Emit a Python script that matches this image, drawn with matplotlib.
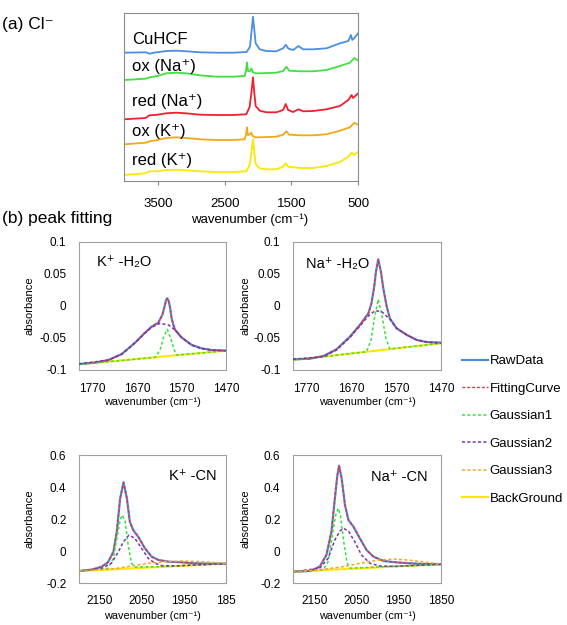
import matplotlib
matplotlib.use('Agg')
import matplotlib.pyplot as plt

plt.rcParams['font.family'] = ['Liberation Sans', 'DejaVu Sans']

# ---------------- (a) Cl- spectra (offset, arbitrary units) ----------------
cuhcf_wn = [4000, 3680, 3620, 3560, 3370, 3220, 3070, 2870, 2620, 2370, 2170, 2120, 2090, 2075,
            2060, 2035, 1975, 1875, 1725, 1625, 1585, 1545, 1475, 1395, 1325, 1175, 975, 775,
            650, 610, 590, 560, 500]
cuhcf = [128.3, 128.7, 127.3, 128.3, 130, 130.3, 129.7, 128.7, 128.3, 128.3, 129, 134.3, 154.3, 164.3,
         154.3, 137.7, 131.7, 130, 129.7, 132.7, 136.3, 132.3, 131, 135, 131.7, 131.7, 132.7, 137.7,
         140, 146, 141, 143, 148]

ox_na_wn = [4000, 3680, 3620, 3500, 3375, 3225, 3075, 2875, 2625, 2375, 2200, 2180, 2165, 2150,
            2125, 2100, 2080, 2040, 1975, 1725, 1625, 1575, 1535, 1375, 1175, 975, 775, 625, 560, 500]
ox_na = [101, 102.3, 103.7, 105, 107.7, 108.3, 107.7, 105.7, 104.3, 104.3, 105, 110, 118.7, 110,
         109.7, 112.5, 109, 107.7, 107.7, 108.3, 110, 114.3, 110.3, 109.7, 109.7, 111, 115, 118.3, 123, 120.3]

red_na_wn = [4000, 3680, 3625, 3500, 3375, 3225, 3075, 2875, 2625, 2375, 2175, 2125, 2100, 2075,
             2055, 2035, 1975, 1875, 1725, 1625, 1585, 1550, 1475, 1395, 1325, 1175, 975, 775,
             650, 600, 580, 500]
red_na = [61.7, 63, 65.7, 66.3, 67.7, 68.3, 67.7, 66.3, 66, 66, 66.7, 74.3, 87.7, 103.7,
          87.7, 75, 70.3, 68.7, 68.7, 71, 77, 71, 69, 71.7, 69.7, 70, 71.7, 75,
          81, 86, 83, 87.7]

ox_k_wn = [4000, 3680, 3620, 3500, 3375, 3225, 3075, 2875, 2625, 2375, 2200, 2180, 2165, 2150,
           2125, 2100, 2080, 2040, 1975, 1725, 1625, 1575, 1535, 1375, 1175, 975, 775, 625, 560, 500]
ox_k = [36.7, 38.3, 39.7, 41, 43, 43.7, 43, 41.7, 41, 41, 41.7, 46, 53.7, 46,
        46.5, 48.3, 45, 43.7, 43.7, 44.3, 46.3, 49.7, 46.3, 45.7, 45.7, 46.7, 50.3, 53.7, 58.3, 56]

red_k_wn = [4000, 3680, 3625, 3500, 3375, 3225, 3075, 2875, 2625, 2375, 2175, 2125, 2100, 2075,
            2055, 2035, 1975, 1875, 1725, 1625, 1585, 1550, 1375, 1175, 975, 775, 650, 600, 560, 500]
red_k = [6, 7.7, 9.7, 9.7, 11, 11.3, 10.7, 9.7, 9, 9, 9.7, 16, 27.7, 41.7,
         27.7, 17, 12.7, 11.7, 11.7, 14.3, 17.7, 14.3, 13, 13, 15, 19, 24.3, 28.3, 26, 29.3]

spec_names = ['CuHCF', 'ox (Na⁺)', 'red (Na⁺)', 'ox (K⁺)', 'red (K⁺)']
spec_colors = ['#4a8fe0', '#3fe03f', '#f0202e', '#f2a818', '#fbe800']
spec_label_y = [0.838, 0.679, 0.472, 0.297, 0.119]
a_ticks = [3500, 2500, 1500, 500]

# ---------------- (b) peak fitting ----------------
# K+ - H2O
kh2o_raw_wn = [1800, 1764, 1734, 1704, 1674, 1652, 1637, 1622, 1613, 1608, 1605, 1602, 1599, 1596,
               1592, 1588, 1584, 1570, 1547, 1525, 1502, 1470]
kh2o_raw = [-0.0906, -0.0885, -0.0844, -0.075, -0.0573, -0.0417, -0.0323, -0.026, -0.0141, -0.001,
            0.0083, 0.012, 0.0083, -0.001, -0.0193, -0.0297, -0.0375, -0.049, -0.0609, -0.0661, -0.0688, -0.0698]
kh2o_g1_wn = [1800, 1734, 1659, 1629, 1618, 1611, 1602, 1594, 1587, 1581, 1547, 1470]
kh2o_g1 = [-0.0911, -0.087, -0.0823, -0.0802, -0.0688, -0.0505, -0.0365, -0.0505, -0.0677, -0.0765, -0.0748, -0.0698]
kh2o_g2_wn = [1800, 1734, 1704, 1674, 1652, 1637, 1618, 1599, 1584, 1570, 1547, 1525, 1502, 1470]
kh2o_g2 = [-0.0906, -0.0844, -0.0755, -0.0573, -0.0427, -0.0333, -0.0271, -0.0297, -0.0375, -0.049,
           -0.0609, -0.0667, -0.069, -0.0698]
kh2o_bg_wn = [1800, 1470]
kh2o_bg = [-0.0911, -0.0698]

# Na+ - H2O
nah2o_raw_wn = [1800, 1762, 1732, 1703, 1673, 1651, 1632, 1625, 1619, 1615, 1610, 1604, 1598, 1591,
                1584, 1569, 1546, 1524, 1502, 1470]
nah2o_raw = [-0.0833, -0.0823, -0.0781, -0.0677, -0.0479, -0.0297, -0.0115, 0.0042, 0.030, 0.0536,
             0.073, 0.0536, 0.025, -0.001, -0.0193, -0.0349, -0.0453, -0.0531, -0.0563, -0.0573]
nah2o_g1_wn = [1800, 1717, 1636, 1626, 1618, 1610, 1601, 1593, 1584, 1524, 1470]
nah2o_g1 = [-0.0844, -0.0781, -0.0714, -0.0531, -0.0167, 0.0105, -0.0167, -0.0505, -0.0672, -0.0625, -0.0583]
nah2o_g2_wn = [1800, 1732, 1703, 1673, 1651, 1632, 1617, 1602, 1584, 1569, 1546, 1524, 1502, 1470]
nah2o_g2 = [-0.0833, -0.0792, -0.0688, -0.049, -0.0313, -0.0156, -0.0073, -0.0089, -0.0208, -0.0349,
            -0.0453, -0.0531, -0.0563, -0.0583]
nah2o_bg_wn = [1800, 1470]
nah2o_bg = [-0.0844, -0.0583]

# K+ - CN
kcn_raw_wn = [2200, 2170, 2146, 2131, 2118, 2110, 2102, 2094, 2086, 2079, 2071, 2059, 2043, 2027,
              2011, 1987, 1955, 1924, 1892, 1850]
kcn_raw = [-0.125, -0.1167, -0.098, -0.0708, -0.004, 0.121, 0.329, 0.429, 0.329, 0.183, 0.131, 0.0896,
           0.0167, -0.0354, -0.056, -0.0667, -0.0708, -0.077, -0.079, -0.079]
kcn_g1_wn = [2200, 2131, 2118, 2110, 2102, 2097, 2090, 2083, 2075, 2067, 2011, 1850]
kcn_g1 = [-0.125, -0.108, -0.046, 0.079, 0.194, 0.225, 0.183, 0.0375, -0.077, -0.1, -0.098, -0.079]
kcn_g2_wn = [2200, 2146, 2123, 2106, 2094, 2081, 2067, 2051, 2035, 2019, 2003, 1971, 1924, 1850]
kcn_g2 = [-0.125, -0.108, -0.077, -0.004, 0.058, 0.1, 0.079, 0.0167, -0.046, -0.077, -0.0917, -0.094,
          -0.0875, -0.079]
kcn_g3_wn = [2200, 2114, 2074, 2035, 1995, 1955, 1908, 1850]
kcn_g3 = [-0.125, -0.1104, -0.0938, -0.077, -0.0667, -0.0625, -0.0667, -0.077]
kcn_bg_wn = [2200, 1850]
kcn_bg = [-0.125, -0.079]

# Na+ - CN
nacn_raw_wn = [2200, 2160, 2137, 2121, 2109, 2101, 2095, 2091, 2085, 2077, 2069, 2057, 2042, 2026,
               2010, 1986, 1955, 1923, 1891, 1850]
nacn_raw = [-0.129, -0.125, -0.098, -0.025, 0.121, 0.329, 0.475, 0.533, 0.454, 0.2875, 0.194, 0.152,
            0.079, 0.006, -0.035, -0.0625, -0.071, -0.077, -0.081, -0.083]
nacn_g1_wn = [2200, 2129, 2117, 2107, 2099, 2093, 2088, 2080, 2072, 2064, 2002, 1850]
nacn_g1 = [-0.129, -0.119, -0.0667, 0.1, 0.225, 0.267, 0.225, 0.058, -0.077, -0.108, -0.1, -0.083]
nacn_g2_wn = [2200, 2137, 2117, 2101, 2089, 2081, 2069, 2054, 2038, 2018, 1994, 1955, 1850]
nacn_g2 = [-0.129, -0.108, -0.046, 0.069, 0.125, 0.142, 0.125, 0.058, -0.025, -0.077, -0.094, -0.096, -0.083]
nacn_g3_wn = [2200, 2129, 2081, 2042, 2002, 1962, 1923, 1883, 1850]
nacn_g3 = [-0.129, -0.115, -0.098, -0.077, -0.058, -0.05, -0.058, -0.071, -0.081]
nacn_bg_wn = [2200, 1850]
nacn_bg = [-0.129, -0.083]

h2o_xticks = [1770, 1670, 1570, 1470]
h2o_yticks = [-0.1, -0.05, 0, 0.05, 0.1]
h2o_ylabels = ['-0.1', '-0.05', '0', '0.05', '0.1']
cn_xticks = [2150, 2050, 1950, 1850]
cn_yticks = [-0.2, 0, 0.2, 0.4, 0.6]
cn_ylabels = ['-0.2', '0', '0.2', '0.4', '0.6']

legend_names = ['RawData', 'FittingCurve', 'Gaussian1', 'Gaussian2', 'Gaussian3', 'BackGround']
c_raw, c_fit, c_g1, c_g2, c_g3, c_bg = '#4a8ed8', '#f02a36', '#3ee03e', '#7a35a8', '#f5a623', '#ffe600'

W, H = 567, 625
fig = plt.figure(figsize=(W / 100, H / 100), dpi=100)


def box(l, t, r, b):
    return [l / W, 1 - b / H, (r - l) / W, (b - t) / H]


# panel (a)
axa = fig.add_axes(box(124.3, 12.7, 358.3, 181))
spec_wn = [cuhcf_wn, ox_na_wn, red_na_wn, ox_k_wn, red_k_wn]
spec_val = [cuhcf, ox_na, red_na, ox_k, red_k]
for wn, v, c, name, ly in zip(spec_wn, spec_val, spec_colors, spec_names, spec_label_y):
    axa.plot(wn, v, color=c, lw=1.3)
    axa.text(0.034, ly, name, transform=axa.transAxes, fontsize=12, va='center', ha='left')
axa.set_xlim(4000, 500)
axa.set_ylim(0, 168.3)
axa.set_xticks(a_ticks)
axa.set_xticklabels([str(t) for t in a_ticks], fontsize=9.5)
axa.set_yticks([])
axa.tick_params(axis='x', length=3, color='#888888', pad=9)
for s in axa.spines.values():
    s.set_color('#8a8a8a')
axa.set_xlabel('wavenumber (cm⁻¹)', fontsize=9.5)
axa.xaxis.set_label_coords(0.537, -0.195)

fig.text(2 / W, 1 - 24 / H, '(a) Cl⁻', fontsize=12.5, va='center', ha='left')
fig.text(2 / W, 1 - 218 / H, '(b) peak fitting', fontsize=12.5, va='center', ha='left')

panels = [
    (box(79, 242, 226, 370), 'K⁺ -H₂O', (0.122, 0.844), (1800, 1470), 'h2o',
     [(kh2o_raw_wn, kh2o_raw), (kh2o_raw_wn, kh2o_raw), (kh2o_g1_wn, kh2o_g1), (kh2o_g2_wn, kh2o_g2),
      None, (kh2o_bg_wn, kh2o_bg)], [str(t) for t in h2o_xticks], -0.30, -0.21),
    (box(293, 242, 441, 370), 'Na⁺ -H₂O', (0.088, 0.828), (1800, 1470), 'h2o',
     [(nah2o_raw_wn, nah2o_raw), (nah2o_raw_wn, nah2o_raw), (nah2o_g1_wn, nah2o_g1), (nah2o_g2_wn, nah2o_g2),
      None, (nah2o_bg_wn, nah2o_bg)], [str(t) for t in h2o_xticks], -0.29, -0.21),
    (box(79, 455, 226, 583), 'K⁺ -CN', (0.612, 0.836), (2200, 1850), 'cn',
     [(kcn_raw_wn, kcn_raw), (kcn_raw_wn, kcn_raw), (kcn_g1_wn, kcn_g1), (kcn_g2_wn, kcn_g2),
      (kcn_g3_wn, kcn_g3), (kcn_bg_wn, kcn_bg)], ['2150', '2050', '1950', '185'], -0.30, -0.215),
    (box(293, 455, 441, 583), 'Na⁺ -CN', (0.527, 0.828), (2200, 1850), 'cn',
     [(nacn_raw_wn, nacn_raw), (nacn_raw_wn, nacn_raw), (nacn_g1_wn, nacn_g1), (nacn_g2_wn, nacn_g2),
      (nacn_g3_wn, nacn_g3), (nacn_bg_wn, nacn_bg)], [str(t) for t in cn_xticks], -0.29, -0.215),
]

dash = (0, (2, 1.5))
styles = [dict(color=c_raw, lw=1.6, zorder=3),
          dict(color=c_fit, lw=1.0, ls=dash, zorder=4),
          dict(color=c_g1, lw=1.1, ls=dash, zorder=5),
          dict(color=c_g2, lw=1.1, ls=dash, zorder=5),
          dict(color=c_g3, lw=1.1, ls=dash, zorder=5),
          dict(color=c_bg, lw=1.5, zorder=2)]

for rect, title, tpos, xl, kind, series, xtl, ylx, xly in panels:
    ax = fig.add_axes(rect)
    hs = []
    for ser, st, name in zip(series, styles, legend_names):
        if ser is None:
            h, = ax.plot([], [], label=name, **st)
        else:
            h, = ax.plot(ser[0], ser[1], label=name, **st)
        hs.append(h)
    ax.set_xlim(*xl)
    if kind == 'h2o':
        ax.set_ylim(-0.1, 0.1)
        ax.set_yticks(h2o_yticks)
        ax.set_yticklabels(h2o_ylabels)
        ax.set_xticks(h2o_xticks)
    else:
        ax.set_ylim(-0.2, 0.6)
        ax.set_yticks(cn_yticks)
        ax.set_yticklabels(cn_ylabels)
        ax.set_xticks(cn_xticks)
    ax.set_xticklabels(xtl)
    ax.tick_params(length=0, labelsize=8.5, pad=9)
    for s in ax.spines.values():
        s.set_color('#a0a0a0')
    ax.text(tpos[0], tpos[1], title, transform=ax.transAxes, fontsize=10.5, va='center', ha='left')
    ax.set_xlabel('wavenumber (cm⁻¹)', fontsize=7.8)
    ax.set_ylabel('absorbance', fontsize=8)
    ax.xaxis.set_label_coords(0.5, xly)
    ax.yaxis.set_label_coords(ylx, 0.5)
    last_handles = hs

fig.legend(last_handles, legend_names, loc='upper left', bbox_to_anchor=(462 / W, 1 - 355 / H),
           frameon=False, fontsize=9.5, handlelength=2.0, handletextpad=0.1, labelspacing=1.16,
           borderpad=0, borderaxespad=0)

fig.savefig('out.png', dpi=100)
